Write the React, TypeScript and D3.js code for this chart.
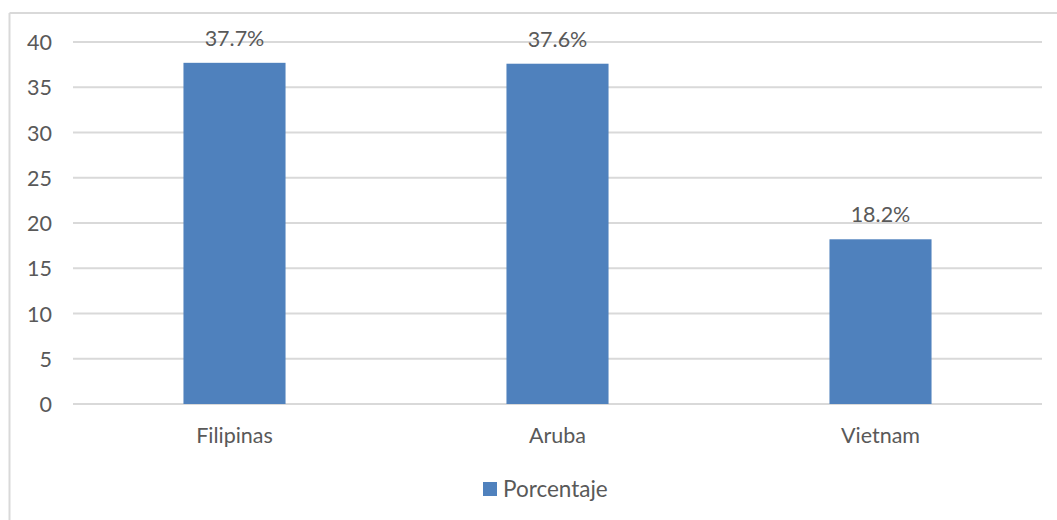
import React from "react";
import * as d3 from "d3";

const categories = ["Filipinas", "Aruba", "Vietnam"];
const values = [37.7, 37.6, 18.2];
const valueLabels = ["37.7%", "37.6%", "18.2%"];
const yTicks = [0, 5, 10, 15, 20, 25, 30, 35, 40];
const seriesName = "Porcentaje";

const W = 1057;
const H = 520;
const FONT = "Lato, 'Liberation Sans', sans-serif";
const TEXT = "#595959";
const GRID = "#d9d9d9";
const BAR = "#4f81bd";
const FS = 21.5;

export default function App() {
  const x = d3.scaleBand<string>().domain(categories).range([73, 1042]).padding(0);
  const y = d3.scaleLinear().domain([0, 40]).range([404, 42]);
  const barW = x.bandwidth() * 0.316;

  return (
    <svg
      width={W}
      height={H}
      style={{ position: "absolute", left: 0, top: 0, background: "#fff" }}
      fontFamily={FONT}
    >
      <line x1={9.5} x2={W} y1={13} y2={13} stroke={GRID} strokeWidth={2} />
      <line x1={9.5} x2={9.5} y1={13} y2={H} stroke={GRID} strokeWidth={2} />
      {yTicks.map((t) => (
        <g key={t}>
          <line x1={73} x2={1042} y1={y(t)} y2={y(t)} stroke={GRID} strokeWidth={2} />
          <text
            x={52}
            y={y(t)}
            textAnchor="end"
            dominantBaseline="central"
            fontSize={FS}
            fill={TEXT}
          >
            {t}
          </text>
        </g>
      ))}
      {categories.map((c, i) => {
        const cx = (x(c) as number) + x.bandwidth() / 2;
        return (
          <g key={c}>
            <rect
              x={cx - barW / 2}
              y={y(values[i])}
              width={barW}
              height={y(0) - y(values[i])}
              fill={BAR}
            />
            <text
              x={cx}
              y={y(values[i]) - 17}
              textAnchor="middle"
              fontSize={FS}
              fill={TEXT}
            >
              {valueLabels[i]}
            </text>
            <text x={cx} y={443} textAnchor="middle" fontSize={FS} fill={TEXT}>
              {c}
            </text>
          </g>
        );
      })}
      <rect x={483} y={482} width={14} height={14} fill={BAR} />
      <text x={503} y={497} fontSize={22.5} fill={TEXT}>
        {seriesName}
      </text>
    </svg>
  );
}
